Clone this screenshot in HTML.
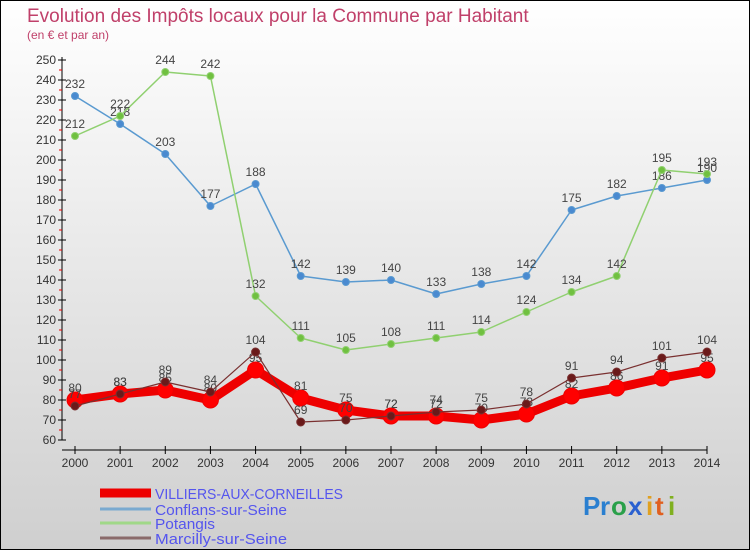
<!DOCTYPE html>
<html><head><meta charset="utf-8"><style>
body{margin:0;width:750px;height:550px;overflow:hidden;font-family:"Liberation Sans",sans-serif}
svg text{font-family:"Liberation Sans",sans-serif}
</style></head><body>
<svg id="c" width="750" height="550" xmlns="http://www.w3.org/2000/svg">
<defs><linearGradient id="bg" x1="0" y1="0" x2="0" y2="1"><stop offset="0" stop-color="#ffffff"/><stop offset="1" stop-color="#cfcfcf"/></linearGradient></defs>
<rect x="0.5" y="0.5" width="749" height="549" fill="url(#bg)" stroke="#000"/>
<text x="27" y="22" font-size="19" fill="#c0406a">Evolution des Impôts locaux pour la Commune par Habitant</text>
<text x="27" y="39" font-size="12" fill="#c0406a">(en € et par an)</text>
<g id="axes"></g>
<g id="series"></g>
<g id="legend"></g>
<g font-size="26" font-weight="bold">
<text x="583" y="515" fill="#2a7fd0">P</text><text x="600" y="515" fill="#2a7fd0">r</text><text x="611" y="515" fill="#2aa04a">o</text><text x="628" y="515" fill="#2a60d0">x</text><text x="646" y="515" fill="#e0a020">i</text><text x="655" y="515" fill="#e06020">t</text><text x="668" y="515" fill="#80b020">i</text>
</g>
</svg>
<script>
const years=[2000,2001,2002,2003,2004,2005,2006,2007,2008,2009,2010,2011,2012,2013,2014];
const villiers=[80,83,85,80,95,81,75,72,72,70,73,82,86,91,95];
const conflans=[232,218,203,177,188,142,139,140,133,138,142,175,182,186,190];
const potangis=[212,222,244,242,132,111,105,108,111,114,124,134,142,195,193];
const marcilly=[77,83,89,84,104,69,70,72,74,75,78,91,94,101,104];
const yTicks=[60,70,80,90,100,110,120,130,140,150,160,170,180,190,200,210,220,230,240,250];
const NS='http://www.w3.org/2000/svg';
const X=i=>75+i*(707-75)/(years.length-1);
const Y=v=>440-(v-60)*2;
function el(t,a,p){const e=document.createElementNS(NS,t);for(const k in a)e.setAttribute(k,a[k]);p.appendChild(e);return e;}
const ax=document.getElementById('axes');
let l=el('line',{x1:62,y1:57,x2:62,y2:440,stroke:'#000'},ax);


l=el('line',{x1:62,y1:450,x2:707,y2:450,stroke:'#000'},ax);


yTicks.forEach(v=>{
 el('line',{x1:58,y1:Y(v),x2:66,y2:Y(v),stroke:'#000'},ax);
 if(v<250)el('line',{x1:59,y1:Y(v+5),x2:62,y2:Y(v+5),stroke:'#e00'},ax);
 const t=el('text',{x:56,y:Y(v)+4,'font-size':12,'text-anchor':'end',fill:'#333'},ax);t.textContent=v;
 
 
});
years.forEach((y,i)=>{
 el('line',{x1:X(i),y1:446,x2:X(i),y2:454,stroke:'#000'},ax);
 const t=el('text',{x:X(i),y:467,'font-size':12,'text-anchor':'middle',fill:'#333'},ax);t.textContent=y;
 
 
});
const sg=document.getElementById('series');
function series(name,data,color,w,r,dot,labels){
 const g=el('g',{},sg);
 
 
 el('polyline',{points:data.map((v,i)=>X(i)+','+Y(v)).join(' '),fill:'none',stroke:color,'stroke-width':w,'stroke-linejoin':'round'},g);
 data.forEach((v,i)=>{
  const c=el('circle',{cx:X(i),cy:Y(v),r:r,fill:dot,stroke:color,'stroke-width':1},g);
  
  
  if(labels){const t=el('text',{x:X(i),y:Y(v)-8,'font-size':12,'text-anchor':'middle',fill:'#444'},g);t.textContent=v;
  
  }
 });
}
series('villiers',villiers,'#ee0000',9,8,'#ff0000',true);
series('conflans',conflans,'#5a9ad0',1.5,3.5,'#4a8ad0',true);
series('potangis',potangis,'#90d070',1.5,3.5,'#70c040',true);
series('marcilly',marcilly,'#7a3030',1.2,4,'#6a1a1a',true);
const lg=document.getElementById('legend');
[['VILLIERS-AUX-CORNEILLES','#ee0000',9,493],['Conflans-sur-Seine','#7aaad0',3,509],['Potangis','#a0d888',3,523],['Marcilly-sur-Seine','#8a6a6a',3,538]].forEach(d=>{
 const g=el('g',{},lg);
 
 
 el('line',{x1:100,y1:d[3],x2:151,y2:d[3],stroke:d[1],'stroke-width':d[2]},g);
 const t=el('text',{x:155,y:d[3]+6,'font-size':15,fill:'#5555ee',textLength:d[0].length>20?188:(d[0]==='Potangis'?60:132),lengthAdjust:'spacingAndGlyphs'},g);t.textContent=d[0];
});
</script>
</body></html>
